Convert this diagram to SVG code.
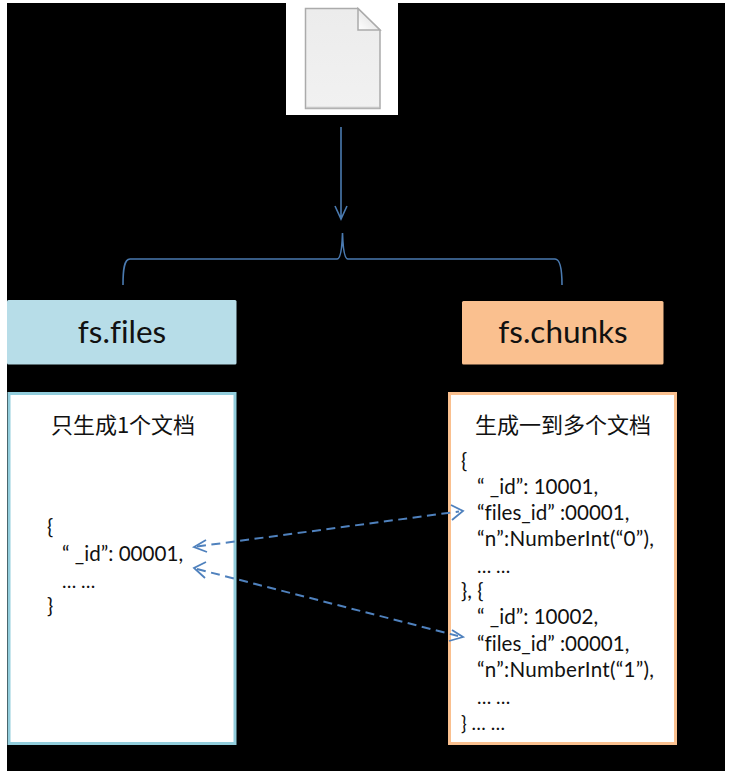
<svg xmlns="http://www.w3.org/2000/svg" width="738" height="776" viewBox="0 0 738 776">
<style>
.t{font-family:Lato,"Liberation Sans",sans-serif;font-size:20.600px;fill:#111;font-variant-ligatures:none}
.e{font-size:19px}
.h{font-family:Lato,"Liberation Sans",sans-serif;font-size:31.500px;fill:#111;text-anchor:middle;font-variant-ligatures:none}
.c{font-family:"Noto Sans CJK SC",sans-serif;font-size:22px;fill:#111;text-anchor:middle}
.l{fill:none;stroke:#4a7ab0;stroke-width:1.6}
.d{fill:none;stroke:#4f81bd;stroke-width:2;stroke-dasharray:9 5.500}
.a{fill:none;stroke:#4f81bd;stroke-width:1.800}
</style>
<defs>
<linearGradient id="pg" x1="0" y1="0" x2="0" y2="1"><stop offset="0" stop-color="#ececec"/><stop offset="1" stop-color="#f1f1f1"/></linearGradient>
<linearGradient id="fd" x1="0" y1="1" x2="1" y2="0"><stop offset="0" stop-color="#ffffff"/><stop offset="1" stop-color="#d8d8d8"/></linearGradient>
</defs>
<rect width="738" height="776" fill="#fff"/>
<rect x="7" y="3" width="718" height="768" fill="#000"/>
<g id="document">
<rect x="286" y="3" width="112" height="112" fill="#fff"/>
<path d="M305.500 8.500H358L380 30V108.500H305.500Z" fill="url(#pg)" stroke="#ababab" stroke-width="1.500"/>
<path d="M358 8.500V30H380Z" fill="url(#fd)" stroke="#ababab" stroke-width="1.500"/>
<path d="M306 107.500H379" stroke="#c8c8c8" stroke-width="1.500"/>
</g>
<g id="fs-files">
<rect x="7" y="300" width="229.500" height="64.500" rx="1.500" fill="#b7dde8"/>
<text class="h" x="122" y="343">fs.files</text>
</g>
<g id="fs-chunks">
<rect x="462" y="301" width="201.500" height="63.500" rx="1.500" fill="#fac08f"/>
<text class="h" x="563" y="343">fs.chunks</text>
</g>
<g id="files-doc">
<rect x="9" y="393.500" width="226" height="350" fill="#fff" stroke="#92cddc" stroke-width="3"/>
<text class="c" x="123" y="433">只生成1个文档</text>
<text class="t" x="47" y="534">{</text>
<text class="t" x="62" y="561">“ _id”: 00001,</text>
<text class="t e" x="62" y="588">… …</text>
<text class="t" x="47" y="613">}</text>
</g>
<g id="chunks-doc">
<rect x="449.500" y="393.500" width="226" height="350" fill="#fff" stroke="#fac08f" stroke-width="3"/>
<text class="c" x="563" y="433">生成一到多个文档</text>
<text class="t" x="461" y="468">{</text>
<text class="t" x="477" y="494">“ _id”: 10001,</text>
<text class="t" x="477" y="520">“files_id” :00001,</text>
<text class="t" x="477" y="546" textLength="177">“n”:NumberInt(“0”),</text>
<text class="t e" x="477" y="573">… …</text>
<text class="t" x="461" y="598">}, {</text>
<text class="t" x="477" y="624">“ _id”: 10002,</text>
<text class="t" x="477" y="651">“files_id” :00001,</text>
<text class="t" x="477" y="677" textLength="177">“n”:NumberInt(“1”),</text>
<text class="t e" x="477" y="704">… …</text>
<text class="t e" x="461" y="730">} … …</text>
</g>
<g id="connectors">
<path class="l" d="M341 127V218M335 206L341 219L347 206"/>
<path class="l" d="M123 285C123 270 124 259 130 259H337C340 259 342 250 342.500 233C343 250 345 259 348 259H555C560 259 562 270 562 285"/>
<path class="d" d="M197 546.500L459 511.500"/>
<path class="d" d="M197 569L458 636"/>
<path class="a" d="M206 540L194 547L207 552M451 505L463 511L452 520"/>
<path class="a" d="M206 562L194 568L205 578M452 630L463 637L449 641"/>
</g>
</svg>
